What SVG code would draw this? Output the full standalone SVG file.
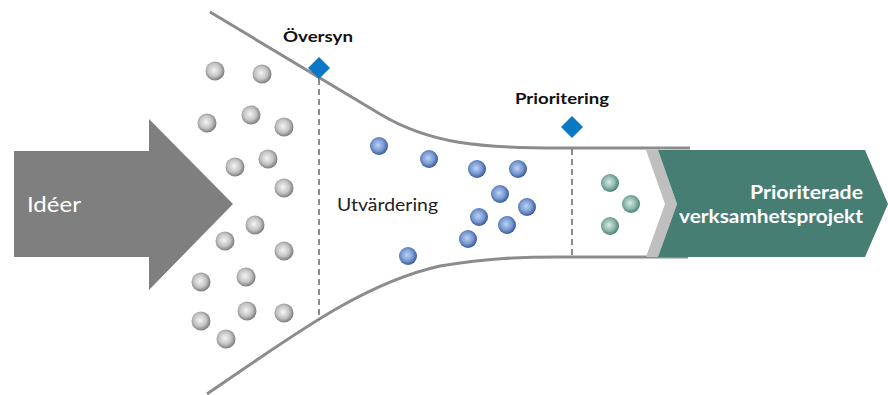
<svg xmlns="http://www.w3.org/2000/svg" width="888" height="395" viewBox="0 0 888 395">
<defs>
<radialGradient id="gGray" cx="0.45" cy="0.45" r="0.55">
<stop offset="0" stop-color="#f4f4f4"/><stop offset="0.6" stop-color="#c4c4c4"/><stop offset="1" stop-color="#7c7c7c"/>
</radialGradient>
<radialGradient id="gBlue" cx="0.45" cy="0.45" r="0.55">
<stop offset="0" stop-color="#bcd3f2"/><stop offset="0.6" stop-color="#7899d2"/><stop offset="1" stop-color="#36599b"/>
</radialGradient>
<radialGradient id="gTeal" cx="0.45" cy="0.45" r="0.55">
<stop offset="0" stop-color="#d8ebe5"/><stop offset="0.6" stop-color="#8cb7ac"/><stop offset="1" stop-color="#4a8173"/>
</radialGradient>
<style>
.funnel{fill:none;stroke:#8c8c8c;stroke-width:3}
.dash{fill:none;stroke:#666;stroke-width:1.5;stroke-dasharray:6,4}
.diamond{fill:#0a78c2}
.g{fill:url(#gGray)}
.b{fill:url(#gBlue)}
.t{fill:url(#gTeal)}
.lbl{font-family:Lato,"Liberation Sans",sans-serif;font-weight:bold;font-size:16px;fill:#111}
.wht{font-family:Lato,"Liberation Sans",sans-serif;fill:#fff}
</style>
</defs>
<g id="connectors">
<path class="funnel" d="M210,12 L380,114 C430,144 480,148 560,148 L690,148"/>
<path class="funnel" d="M207,394 C290,338 360,284 440,266 C490,258 520,257 560,257 L688,257"/>
<line class="dash" x1="319" y1="79" x2="319" y2="320"/>
<line class="dash" x1="572" y1="149" x2="572" y2="255"/>
</g>
<g id="ideer">
<polygon fill="#7f7f7f" points="14,151 149,151 149,119 233,204 149,290 149,257 14,257"/>
<text class="wht" x="27" y="212" font-size="21" textLength="54" lengthAdjust="spacingAndGlyphs">Idéer</text>
</g>
<g id="oversyn">
<polygon class="diamond" points="319,57 330,68 319,79 308,68"/>
<text class="lbl" x="283" y="42" textLength="70" lengthAdjust="spacingAndGlyphs">Översyn</text>
</g>
<g id="prioritering">
<polygon class="diamond" points="572,116 583,127 572,138 561,127"/>
<text class="lbl" x="515" y="104" textLength="94" lengthAdjust="spacingAndGlyphs">Prioritering</text>
</g>
<g id="utvardering">
<text x="337" y="211" font-family="Lato,'Liberation Sans',sans-serif" font-size="17" fill="#222" textLength="101" lengthAdjust="spacingAndGlyphs">Utvärdering</text>
</g>
<g id="result">
<polygon fill="#bfbfbf" points="646,150 658,150 677,204 658,257 646,257 665,204"/>
<polygon fill="#477e74" points="658,150 865,150 888,204 865,257 658,257 677,204"/>
<text class="wht" x="750" y="199" font-size="18" font-weight="bold" textLength="113" lengthAdjust="spacingAndGlyphs">Prioriterade</text>
<text class="wht" x="679" y="223" font-size="18" font-weight="bold" textLength="184" lengthAdjust="spacingAndGlyphs">verksamhetsprojekt</text>
</g>
<g id="gray-balls">
<circle class="g" cx="215" cy="71" r="9.5"/>
<circle class="g" cx="262" cy="74" r="9.5"/>
<circle class="g" cx="207" cy="123" r="9.5"/>
<circle class="g" cx="251" cy="115" r="9.5"/>
<circle class="g" cx="284" cy="127" r="9.5"/>
<circle class="g" cx="235" cy="167" r="9.5"/>
<circle class="g" cx="268" cy="159" r="9.5"/>
<circle class="g" cx="284" cy="188" r="9.5"/>
<circle class="g" cx="255" cy="225" r="9.5"/>
<circle class="g" cx="225" cy="241" r="9.5"/>
<circle class="g" cx="284" cy="251" r="9.5"/>
<circle class="g" cx="201" cy="282" r="9.5"/>
<circle class="g" cx="246" cy="277" r="9.5"/>
<circle class="g" cx="201" cy="321" r="9.5"/>
<circle class="g" cx="247" cy="311" r="9.5"/>
<circle class="g" cx="284" cy="313" r="9.5"/>
<circle class="g" cx="226" cy="339" r="9.5"/>
</g>
<g id="blue-balls">
<circle class="b" cx="379" cy="146" r="9"/>
<circle class="b" cx="429" cy="159" r="9"/>
<circle class="b" cx="477" cy="169" r="9"/>
<circle class="b" cx="518" cy="169" r="9"/>
<circle class="b" cx="500" cy="194" r="9"/>
<circle class="b" cx="527" cy="207" r="9"/>
<circle class="b" cx="479" cy="217" r="9"/>
<circle class="b" cx="507" cy="225" r="9"/>
<circle class="b" cx="468" cy="239" r="9"/>
<circle class="b" cx="408" cy="256" r="9"/>
</g>
<g id="teal-balls">
<circle class="t" cx="610" cy="183" r="9"/>
<circle class="t" cx="631" cy="204" r="9"/>
<circle class="t" cx="610" cy="226" r="9"/>
</g>
</svg>
